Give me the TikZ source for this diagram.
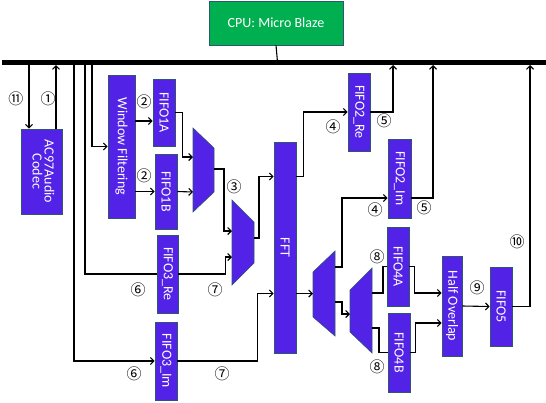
\documentclass[tikz,border=0pt]{standalone}
\usepackage{fontspec}
\setmainfont{Carlito}
\newfontfamily\cjk{Noto Sans CJK JP}
\usetikzlibrary{arrows.meta}
\definecolor{blkblue}{HTML}{5222E6}
\definecolor{edgeblue}{HTML}{2F5570}
\definecolor{cpugreen}{HTML}{00B050}
\newcommand{\vtext}[1]{\rotatebox{-90}{#1}}
\tikzset{
  blk/.style={draw=edgeblue,fill=blkblue,text=white,inner sep=0pt,line width=0.6pt,
    font=\fontsize{14}{14}\selectfont},
  mux/.style={draw=edgeblue,fill=blkblue,line width=0.6pt},
  wire/.style={line width=1.1pt},
  arr/.style={wire,-{Straight Barb[length=3.5pt,width=7pt]}},
  num/.style={font=\cjk\fontsize{15}{15}\selectfont,inner sep=0pt}
}
\begin{document}
\begin{tikzpicture}[x=1pt,y=-1pt]
  \useasboundingbox (0,0) rectangle (546,402);
  % blocks
  \node[blk,fill=cpugreen,minimum width=134,minimum height=44] (cpu) at (276,23) {CPU: Micro Blaze};
  \node[blk,minimum width=41,minimum height=85] (ac97) at (41.5,171.5)
    {\vtext{\begin{tabular}{@{}c@{}}AC97Audio\\[-2pt]Codec\end{tabular}}};
  \node[blk,minimum width=27,minimum height=143] (wf) at (121.5,146.5) {\vtext{Window Filtering}};
  \node[blk,minimum width=22,minimum height=67] (fifo1a) at (164,112.5) {\vtext{FIFO1A}};
  \node[blk,minimum width=22,minimum height=75] (fifo1b) at (166,191.5) {\vtext{FIFO1B}};
  \node[blk,minimum width=21,minimum height=78] (fifo3re) at (167.5,274) {\vtext{FIFO3\_Re}};
  \node[blk,minimum width=22,minimum height=78] (fifo3im) at (166,361) {\vtext{FIFO3\_Im}};
  \node[blk,minimum width=22,minimum height=211] (fft) at (285,247.5) {\vtext{FFT}};
  \node[blk,minimum width=22,minimum height=78] (fifo2re) at (359,112) {\vtext{FIFO2\_Re}};
  \node[blk,minimum width=23,minimum height=79] (fifo2im) at (399.5,178.5) {\vtext{FIFO2\_Im}};
  \node[blk,minimum width=22,minimum height=79] (fifo4a) at (398,266.5) {\vtext{FIFO4A}};
  \node[blk,minimum width=22,minimum height=79] (fifo4b) at (399,352.5) {\vtext{FIFO4B}};
  \node[blk,minimum width=20,minimum height=100] (ho) at (452,306) {\vtext{Half Overlap}};
  \node[blk,minimum width=22,minimum height=79] (fifo5) at (501,306.5) {\vtext{FIFO5}};
  % muxes
  \draw[mux] (193,128) -- (214,148) -- (214,192) -- (193,212) -- cycle;
  \draw[mux] (232,200) -- (254,222) -- (254,263) -- (232,285) -- cycle;
  \draw[mux] (313,272) -- (335,251) -- (335,336) -- (313,317) -- cycle;
  \draw[mux] (350,290) -- (372,268) -- (372,353) -- (350,332) -- cycle;
  \coordinate (m1a) at (193,157);
  \coordinate (m1b) at (193,192);
  \coordinate (m1o) at (214,169);
  \coordinate (m2a) at (232,231);
  \coordinate (m2b) at (232,257);
  \coordinate (m2o) at (254,238);
  \coordinate (m3i) at (313,293.5);
  \coordinate (m3a) at (335,267);
  \coordinate (m3b) at (335,302);
  \coordinate (m4i) at (350,314);
  \coordinate (m4a) at (372,293);
  \coordinate (m4b) at (372,328);
  % bus
  \draw[line width=5pt] (2,62) -- (546,62);
  \coordinate (bcpu) at (277.5,62);
  \coordinate (b11) at (29,62);
  \coordinate (b1) at (56,65);
  \coordinate (b3im) at (74,62);
  \coordinate (b3re) at (85,62);
  \coordinate (bwf) at (92,62);
  \coordinate (b5a) at (393,65);
  \coordinate (b5b) at (433,65);
  \coordinate (b10) at (530,65);
  % connectors
  \draw[wire] (cpu.south) -- (bcpu);
  \draw[arr] (b11) -- (b11 |- ac97.north);
  \draw[arr] (b1 |- ac97.north) -- (b1);
  \draw[arr] (b3im) |- (fifo3im.west);
  \draw[wire] (b3re) |- (fifo3re.west);
  \draw[arr] (bwf) |- (wf.west);
  \draw[arr] ([yshift=25.5pt]wf.east) -- ([yshift=25.5pt]wf.east -| fifo1a.west);
  \draw[arr] (wf.east |- fifo1b.west) -- (fifo1b.west);
  \draw[arr] (fifo1a.east) -- ++(7,0) |- (m1a);
  \draw[arr] (fifo1b.east) -- (m1b);
  \draw[arr] (m1o) -- ++(10,0) |- (m2a);
  \draw[arr] (fifo3re.east) -- ++(47,0) |- (m2b);
  \draw[arr] (m2o) -- ++(5,0) |- ([yshift=71pt]fft.west);
  \draw[arr] (fifo3im.east) -- ++(80,0) |- ([yshift=-46pt]fft.west);
  \draw[arr] ([yshift=71pt]fft.east) -- ++(7,0) |- (fifo2re.west);
  \draw[arr] (fifo2re.east) -| (b5a);
  \draw[arr] ([yshift=-46pt]fft.east) -- (m3i);
  \draw[arr] (m3a) -- ++(7,0) |- ([yshift=-19.5pt]fifo2im.west);
  \draw[arr] ([yshift=-19.5pt]fifo2im.east) -| (b5b);
  \draw[arr] (m3b) -- ++(7,0) |- (m4i);
  \draw[wire] (m4a) -- ++(11,0) |- (fifo4a.west);
  \draw[wire] (m4b) -- ++(7,0) |- (fifo4b.west);
  \draw[arr] (fifo4a.east) -- ++(5,0) |- ([yshift=13pt]ho.west);
  \draw[arr] (fifo4b.east) -- ++(5,0) |- ([yshift=-17pt]ho.west);
  \draw[arr] (ho.east) -- (fifo5.west);
  \draw[arr] (fifo5.east) -| (b10);
  % step numbers
  \node[num] (n11) at (16,99) {⑪};
  \node[num] (n1) at (48,99) {①};
  \node[num] (n2a) at (144,102) {②};
  \node[num] (n2b) at (144,176) {②};
  \node[num] (n3) at (234,187) {③};
  \node[num] (n4a) at (333,127) {④};
  \node[num] (n5a) at (384,121) {⑤};
  \node[num] (n4b) at (375,210) {④};
  \node[num] (n5b) at (424,208) {⑤};
  \node[num] (n6a) at (138,290) {⑥};
  \node[num] (n6b) at (134,374) {⑥};
  \node[num] (n7a) at (215,290) {⑦};
  \node[num] (n7b) at (222,374) {⑦};
  \node[num] (n8a) at (377,257) {⑧};
  \node[num] (n8b) at (377,367) {⑧};
  \node[num] (n9) at (477,288) {⑨};
  \node[num] (n10) at (517,242) {⑩};
\end{tikzpicture}
\end{document}
